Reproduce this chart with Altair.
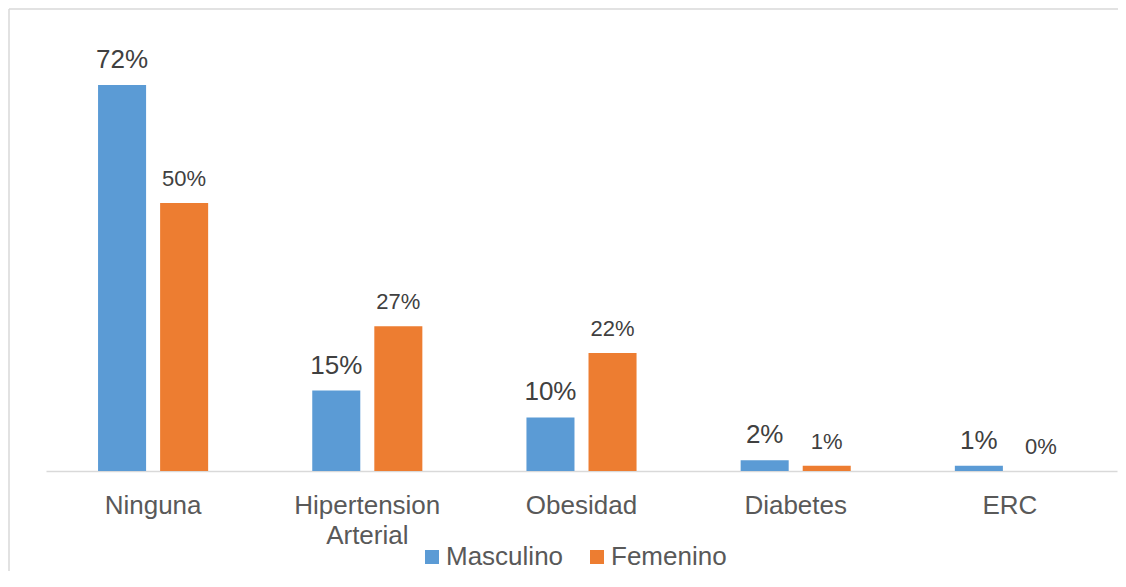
import altair as alt
import pandas as pd

categorias = ["Ninguna", "Hipertension Arterial", "Obesidad", "Diabetes", "ERC"]
series = ["Masculino", "Femenino"]
masculino = [72, 15, 10, 2, 1]
femenino = [50, 27, 22, 1, 0]
colores = ["#5B9BD5", "#ED7D31"]

rows = []
for c, m, f in zip(categorias, masculino, femenino):
    rows.append({"Categoria": c, "Sexo": "Masculino", "Valor": m})
    rows.append({"Categoria": c, "Sexo": "Femenino", "Valor": f})
df = pd.DataFrame(rows)

FONT = "Liberation Sans"

x_enc = alt.X(
    "Categoria:N",
    sort=categorias,
    scale=alt.Scale(paddingInner=0.486, paddingOuter=0.243),
    axis=alt.Axis(
        title=None, labelAngle=0, ticks=False,
        domainColor="#D9D9D9", domainWidth=1.5,
        labelColor="#595959", labelFont=FONT, labelFontSize=26,
        labelPadding=21, labelLineHeight=30, labelLimit=400,
        labelExpr="datum.label == 'Hipertension Arterial' ? ['Hipertension', 'Arterial'] : datum.label",
    ),
)
xo_enc = alt.XOffset("Sexo:N", sort=series, scale=alt.Scale(paddingInner=0.226, paddingOuter=0))
y_enc = alt.Y("Valor:Q", scale=alt.Scale(domain=[0, 80]), axis=None)

base = alt.Chart(df)

bars = base.mark_bar().encode(
    x=x_enc, xOffset=xo_enc, y=y_enc,
    color=alt.Color(
        "Sexo:N", sort=series,
        scale=alt.Scale(domain=series, range=colores),
        legend=alt.Legend(
            title=None, orient="none", legendX=373, legendY=502,
            direction="horizontal", symbolType="square", symbolSize=196,
            symbolStrokeWidth=0, labelFontSize=26, labelFont=FONT,
            labelColor="#595959", labelOffset=1, columnPadding=20, padding=0,
        ),
    ),
)

lab_m = base.transform_filter("datum.Sexo == 'Masculino'").transform_calculate(
    etiqueta="datum.Valor + '%'"
).mark_text(fontSize=26, baseline="alphabetic", dy=-17, color="#404040", font=FONT).encode(
    x=x_enc, xOffset=xo_enc, y=y_enc, text="etiqueta:N"
)
lab_f = base.transform_filter("datum.Sexo == 'Femenino'").transform_calculate(
    etiqueta="datum.Valor + '%'"
).mark_text(fontSize=22, baseline="alphabetic", dy=-17, color="#404040", font=FONT).encode(
    x=x_enc, xOffset=xo_enc, y=y_enc, text="etiqueta:N"
)

marco = pd.DataFrame({"k": [0]})
borde_izq = alt.Chart(marco).mark_rule(color="#D9D9D9", strokeWidth=1.5).encode(
    x=alt.value(-37), y=alt.value(-33), y2=alt.value(540)
)
borde_sup = alt.Chart(marco).mark_rule(color="#D9D9D9", strokeWidth=1.5).encode(
    x=alt.value(-37), x2=alt.value(1080), y=alt.value(-33)
)

chart = alt.layer(bars, lab_m, lab_f, borde_izq, borde_sup).properties(
    width=1071, height=429,
    autosize=alt.AutoSizeParams(type="none"),
    padding={"left": 38, "top": 34, "right": 1, "bottom": 100},
).configure_view(stroke=None)

chart.save("out.html", embed_options={"renderer": "svg", "actions": False})
